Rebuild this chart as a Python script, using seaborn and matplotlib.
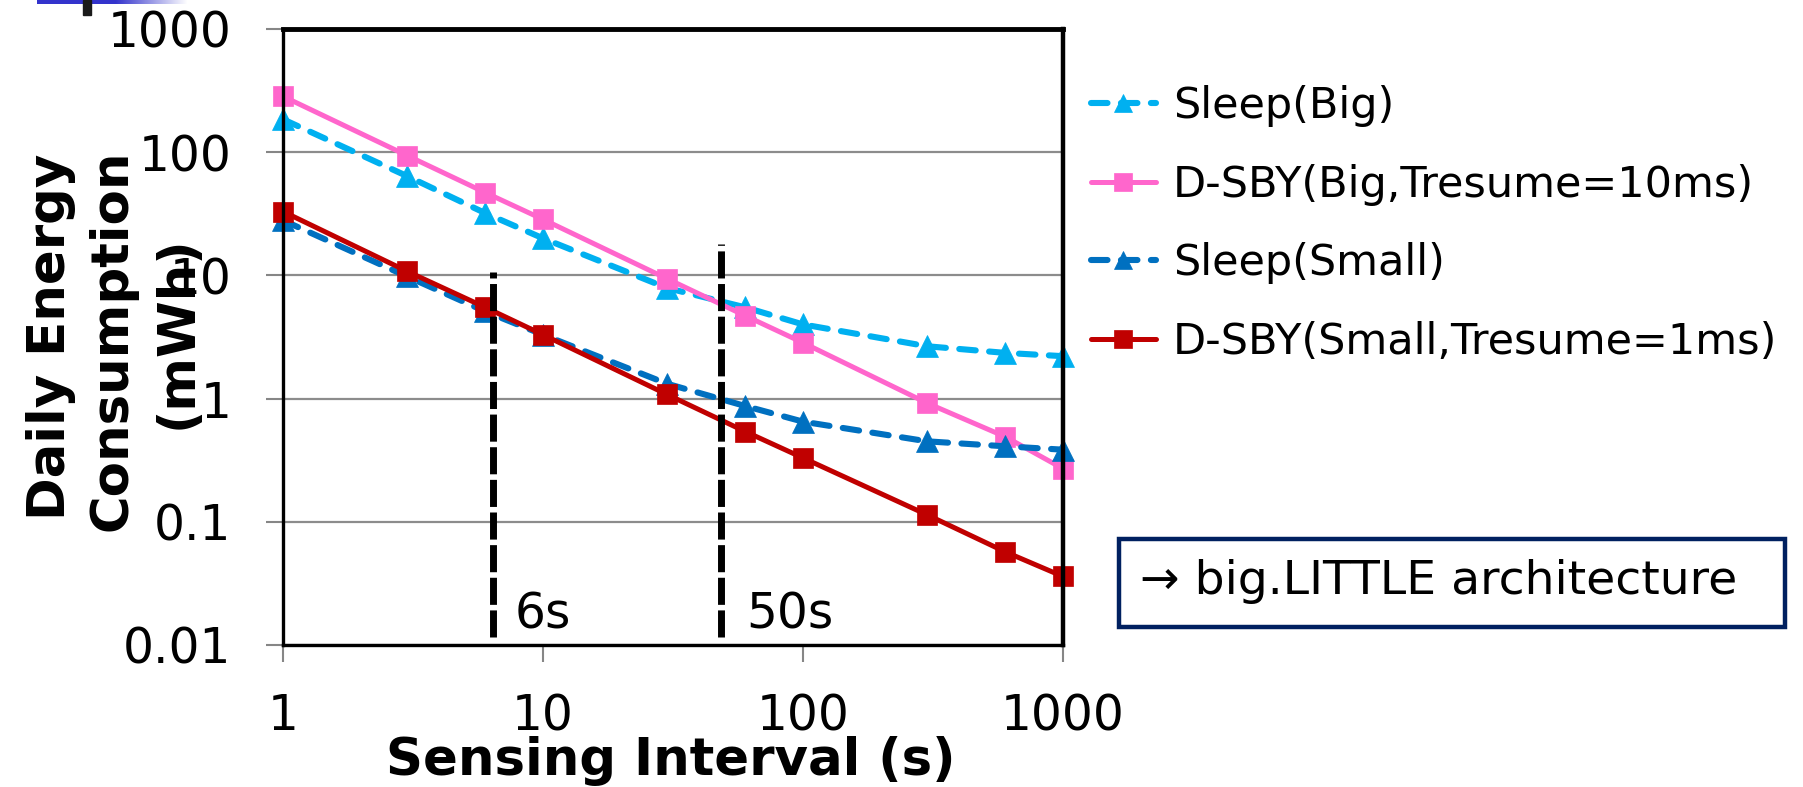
import numpy as np
import pandas as pd
import matplotlib
matplotlib.use("Agg")
import matplotlib.pyplot as plt
from matplotlib.patches import Rectangle
import seaborn as sns

# ---------------- data ----------------
intervals = [1, 3, 6, 10, 30, 60, 100, 300, 600, 1000]
sleep_big = [185, 64, 32, 20, 7.9, 5.5, 4.0, 2.66, 2.35, 2.21]
dsby_big = [284, 94, 47, 28.5, 9.4, 4.7, 2.84, 0.92, 0.49, 0.27]
sleep_small = [28, 9.8, 5.1, 3.3, 1.32, 0.87, 0.65, 0.45, 0.41, 0.385]
dsby_small = [33, 10.8, 5.5, 3.3, 1.08, 0.54, 0.33, 0.114, 0.057, 0.036]

series_names = ["Sleep(Big)", "D-SBY(Big,Tresume=10ms)",
                "Sleep(Small)", "D-SBY(Small,Tresume=1ms)"]

x_ticks = [1, 10, 100, 1000]
x_tick_labels = ["1", "10", "100", "1000"]
y_ticks = [0.01, 0.1, 1, 10, 100, 1000]
y_tick_labels = ["0.01", "0.1", "1", "10", "100", "1000"]

break_x = [6.45, 48.3]
break_top = [10.6, 17.9]
break_labels = ["6s", "50s"]
break_label_x = [7.8, 60.4]
break_label_y = 0.0135

ylabel_lines = ["Daily Energy", "Consumption", "(mWh)"]

# ---------------- style ----------------
sns.set_theme(style="white")
plt.rcParams["font.family"] = ["DejaVu Sans"]

W, H = 1803, 787
fig = plt.figure(figsize=(W / 100, H / 100), dpi=100)
fig.patch.set_facecolor("white")
ax = fig.add_axes([283 / W, 1 - 645 / H, 780 / W, 616 / H])

styles = [
    dict(color="#00B0F0", marker="^", dashed=True),
    dict(color="#FF66CC", marker="s", dashed=False),
    dict(color="#0070C0", marker="^", dashed=True),
    dict(color="#C00000", marker="s", dashed=False),
]
all_vals = [sleep_big, dsby_big, sleep_small, dsby_small]

for name, vals, st in zip(series_names, all_vals, styles):
    df = pd.DataFrame({"x": intervals, "y": vals})
    kw = dict(color=st["color"], marker=st["marker"],
              markersize=16 if st["marker"] == "^" else 15,
              markeredgecolor=st["color"], markeredgewidth=0.5,
              label=name, clip_on=False)
    if st["dashed"]:
        kw.update(linewidth=4.4, linestyle=(0, (2.7, 2.2)),
                  dash_capstyle="round")
    else:
        kw.update(linewidth=3.6, linestyle="-")
    sns.lineplot(data=df, x="x", y="y", ax=ax, **kw)

ax.set_xscale("log")
ax.set_yscale("log")
ax.set_xlim(1, 1000)
ax.set_ylim(0.01, 1000)
ax.set_xticks(x_ticks)
ax.set_xticklabels(x_tick_labels)
ax.set_yticks(y_ticks)
ax.set_yticklabels(y_tick_labels)
ax.xaxis.set_minor_locator(matplotlib.ticker.NullLocator())
ax.yaxis.set_minor_locator(matplotlib.ticker.NullLocator())

ax.yaxis.grid(True, color="#8c8c8c", linewidth=1.6)
ax.xaxis.grid(False)
ax.set_axisbelow(True)

ax.tick_params(axis="both", which="major", direction="out", length=12,
               width=1.5, color="#868686", labelsize=35, labelcolor="black")
ax.tick_params(axis="x", pad=22, bottom=True)
ax.tick_params(axis="y", pad=25, left=True)

for side, lw in [("top", 3.5), ("right", 3.2), ("left", 2.4), ("bottom", 2.4)]:
    ax.spines[side].set_visible(True)
    ax.spines[side].set_color("black")
    ax.spines[side].set_linewidth(lw)

# vertical break lines and their labels
for bx, bt, bl, lx in zip(break_x, break_top, break_labels, break_label_x):
    ax.vlines(bx, 0.0116, bt, colors="black", linewidth=5,
              linestyles=[(0, (3.9, 0.8))], zorder=5)
    ax.text(lx, break_label_y, bl, fontsize=35, ha="left", va="baseline",
            color="black")

ax.set_xlabel("Sensing Interval (s)", fontsize=37, fontweight="bold",
              color="black")
ax.xaxis.set_label_coords(0.497, -0.148)

# y label as three stacked lines (like the reference)
ax.set_ylabel(ylabel_lines[0], fontsize=37, fontweight="bold",
              color="black", va="baseline")
ax.yaxis.set_label_coords(-0.2795, 0.5)
for txt, lx, ly in zip(ylabel_lines[1:], [-0.200, -0.1167], [0.495, 0.508]):
    ax.text(lx, ly, txt, transform=ax.transAxes, rotation=90,
            rotation_mode="anchor", ha="center", va="baseline",
            fontsize=37, fontweight="bold", color="black")

leg = ax.legend(loc="center left", bbox_to_anchor=(1091 / W, 1 - 224 / H),
                bbox_transform=fig.transFigure, frameon=False, fontsize=31,
                handlelength=1.5, handletextpad=0.4, labelspacing=0.85,
                borderpad=0, borderaxespad=0, markerscale=0.85)
for t in leg.get_texts():
    t.set_color("black")

# annotation box
fig.patches.append(Rectangle((1119 / W, 1 - 627 / H), 666 / W, 88 / H,
                             transform=fig.transFigure, fill=False,
                             edgecolor="#002060", linewidth=3.2))
fig.text(1140 / W, 1 - 582 / H, "\u2192 big.LITTLE architecture",
         fontsize=34, ha="left", va="center", color="black")

# small decoration at top-left (slide remnants)
grad_ax = fig.add_axes([37 / W, 1 - 4 / H, 150 / W, 4 / H])
cols = np.ones((1, 150, 3))
base = np.array([0x33, 0x33, 0xCC]) / 255.0
for i in range(150):
    if i < 78:
        cols[0, i] = base
    else:
        f = (i - 78) / 72.0
        cols[0, i] = base * (1 - f) + f
grad_ax.imshow(cols, aspect="auto", interpolation="bilinear")
grad_ax.axis("off")
fig.patches.append(Rectangle((83 / W, 1 - 15 / H), 8 / W, 15 / H,
                             transform=fig.transFigure, color="#1a1a1a"))

fig.savefig("out.png", dpi=100, facecolor="white")
